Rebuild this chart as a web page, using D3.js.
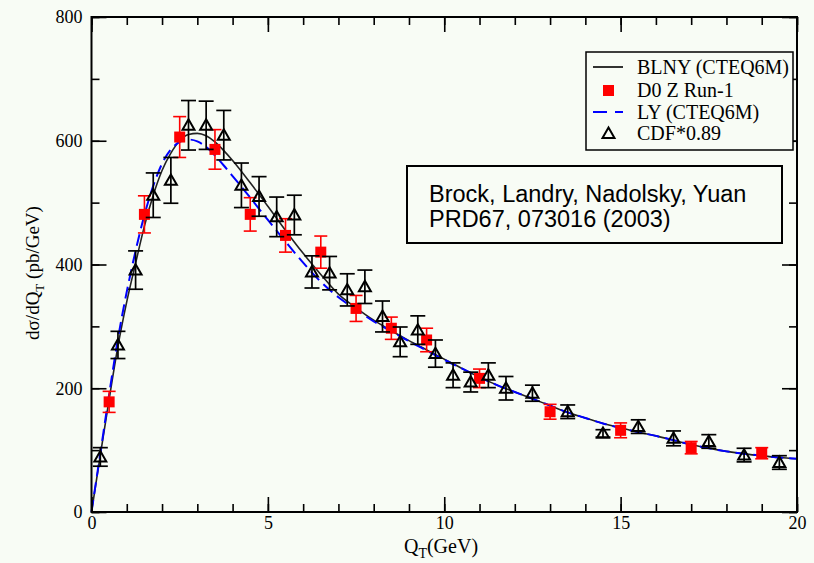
<!DOCTYPE html>
<html>
<head>
<meta charset="utf-8">
<script src="https://cdn.jsdelivr.net/npm/d3@7"></script>
<style>
  html, body { margin: 0; padding: 0; background: #f8fcf5; }
  svg { display: block; }
</style>
</head>
<body>
<script>
// Z boson transverse momentum distribution at the Tevatron Run-1

// Theory curves, sampled in Q_T (GeV)
const curveQ = [0, 0.25, 0.5, 0.75, 1, 1.25, 1.5, 1.75, 2, 2.25, 2.5, 2.75, 3, 3.25, 3.5, 3.75, 4,
  4.5, 5, 5.5, 6, 6.5, 7, 7.5, 8, 8.5, 9, 9.5, 10, 10.5, 11, 11.5, 12, 12.5, 13, 13.5, 14,
  14.5, 15, 15.5, 16, 16.5, 17, 17.5, 18, 18.5, 19, 19.5, 20];
const blnyValues = [0, 92, 182, 268, 340, 402, 462, 512, 552, 580, 600, 610, 612, 608, 598, 584, 568,
  532, 494, 455, 418, 384, 352, 330, 310, 293, 277, 262, 247, 232, 218, 205, 194, 183, 172, 161, 152,
  143, 136, 129, 123, 116, 109, 103, 98, 94, 91, 88, 86];
const lyValues = [0, 95, 190, 280, 356, 422, 480, 527, 563, 586, 598, 602, 599, 590, 576, 560, 543,
  508, 472, 437, 403, 372, 347, 327, 308, 292, 276, 261, 246, 232, 218, 205, 194, 183, 172, 161, 152,
  143, 136, 129, 123, 116, 109, 103, 98, 94, 91, 88, 86];

// D0 Z Run-1 data
const d0Q = [0.5, 1.5, 2.5, 3.5, 4.5, 5.5, 6.5, 7.5, 8.5, 9.5, 11, 13, 15, 17, 19];
const d0Values = [178, 481, 606, 586, 481, 447, 420, 329, 297, 278, 216, 162, 132, 104, 95];
const d0Errors = [17, 30, 33, 32, 27, 27, 26, 21, 18, 19, 15, 12, 12, 10, 9];

// CDF data, scaled by 0.89
const cdfQ = [0.25, 0.75, 1.25, 1.75, 2.25, 2.75, 3.25, 3.75, 4.25, 4.75, 5.25, 5.75, 6.25, 6.75,
  7.25, 7.75, 8.25, 8.75, 9.25, 9.75, 10.25, 10.75, 11.25, 11.75, 12.5, 13.5, 14.5, 15.5, 16.5,
  17.5, 18.5, 19.5];
const cdfValues = [89, 270, 391, 512, 536, 625, 625, 609, 528, 510, 477, 480, 388, 386, 359, 364,
  316, 275, 294, 256, 221, 210, 221, 200, 192, 162, 127, 138, 119, 114, 92, 80];
const cdfErrors = [15, 22, 31, 36, 37, 40, 39, 40, 36, 32, 32, 32, 26, 27, 26, 27, 25, 24, 23, 22,
  20, 16, 20, 19, 13, 11, 6, 11, 12, 11, 11, 11];

// Axis ticks
const xMajorTicks = [0, 5, 10, 15, 20];
const xMinorTicks = d3.range(0, 21, 1);
const yMajorTicks = [0, 200, 400, 600, 800];
const yMinorTicks = d3.range(0, 801, 100);

const legendLabels = ["BLNY (CTEQ6M)", "D0 Z Run-1", "LY (CTEQ6M)", "CDF*0.89"];
const noteLines = ["Brock, Landry, Nadolsky, Yuan", "PRD67, 073016 (2003)"];

const W = 814, H = 563;
const bg = "#f8fcf5";
const serif = "'Liberation Serif', 'Times New Roman', serif";
const sans = "'Liberation Sans', Arial, sans-serif";

const svg = d3.select("body").append("svg")
  .attr("width", W).attr("height", H)
  .style("background", bg);

const x = d3.scaleLinear().domain([0, 20]).range([91.5, 797]);
const y = d3.scaleLinear().domain([0, 800]).range([512, 17]);

// Theory curves
const line = d3.line().curve(d3.curveMonotoneX);
const blnyPts = curveQ.map((q, i) => [x(q), y(blnyValues[i])]);
const lyPts = curveQ.map((q, i) => [x(q), y(lyValues[i])]);

svg.append("path").attr("d", line(blnyPts))
  .attr("fill", "none").attr("stroke", "#222").attr("stroke-width", 1.6);
svg.append("path").attr("d", line(lyPts))
  .attr("fill", "none").attr("stroke", "#0000ff").attr("stroke-width", 2)
  .attr("stroke-dasharray", "12,6");

// Error bars helper
function errorBars(g, qs, vals, errs, color, cap, width) {
  qs.forEach((q, i) => {
    const cx = x(q), top = y(vals[i] + errs[i]), bot = y(vals[i] - errs[i]);
    g.append("line").attr("x1", cx).attr("x2", cx).attr("y1", top).attr("y2", bot)
      .attr("stroke", color).attr("stroke-width", width);
    [top, bot].forEach(yy => g.append("line")
      .attr("x1", cx - cap / 2).attr("x2", cx + cap / 2).attr("y1", yy).attr("y2", yy)
      .attr("stroke", color).attr("stroke-width", width));
  });
}

// D0 points
const d0g = svg.append("g");
errorBars(d0g, d0Q, d0Values, d0Errors, "#ff0000", 13, 1.6);
d0g.selectAll("rect").data(d0Q).join("rect")
  .attr("x", (q) => x(q) - 5.5)
  .attr("y", (q, i) => y(d0Values[i]) - 5.5)
  .attr("width", 11).attr("height", 11)
  .attr("fill", "#ff0000");

// CDF points
const cdfg = svg.append("g");
errorBars(cdfg, cdfQ, cdfValues, cdfErrors, "#000", 15, 1.7);
const tri = d3.symbol().type(d3.symbolTriangle).size(62);
cdfg.selectAll("path.tri").data(cdfQ).join("path")
  .attr("class", "tri")
  .attr("d", tri)
  .attr("transform", (q, i) => `translate(${x(q)},${y(cdfValues[i]) + 1})`)
  .attr("fill", "none").attr("stroke", "#000").attr("stroke-width", 2);

// Frame and ticks (inward, mirrored)
const axisG = svg.append("g").attr("font-family", serif);
function styleAxis(g) {
  g.select(".domain").remove();
  g.selectAll(".tick line").attr("stroke", "#000").attr("stroke-width", 1.6);
}
axisG.append("g").attr("transform", `translate(0,${y(0)})`)
  .call(d3.axisBottom(x).tickValues(xMinorTicks).tickSize(-8).tickFormat(""))
  .call(styleAxis);
axisG.append("g").attr("transform", `translate(0,${y(0)})`)
  .call(d3.axisBottom(x).tickValues(xMajorTicks).tickSize(-15).tickPadding(4).tickFormat(d3.format("d")))
  .call(styleAxis)
  .call(g => g.selectAll("text").attr("font-size", 18).attr("font-family", serif).attr("fill", "#000"));
axisG.append("g").attr("transform", `translate(0,${y(800)})`)
  .call(d3.axisTop(x).tickValues(xMinorTicks).tickSize(-8).tickFormat(""))
  .call(styleAxis);
axisG.append("g").attr("transform", `translate(0,${y(800)})`)
  .call(d3.axisTop(x).tickValues(xMajorTicks).tickSize(-15).tickFormat(""))
  .call(styleAxis);
axisG.append("g").attr("transform", `translate(${x(0)},0)`)
  .call(d3.axisLeft(y).tickValues(yMinorTicks).tickSize(-8).tickFormat(""))
  .call(styleAxis);
axisG.append("g").attr("transform", `translate(${x(0)},0)`)
  .call(d3.axisLeft(y).tickValues(yMajorTicks).tickSize(-15).tickPadding(9).tickFormat(d3.format("d")))
  .call(styleAxis)
  .call(g => g.selectAll("text").attr("font-size", 18).attr("font-family", serif).attr("fill", "#000"));
axisG.append("g").attr("transform", `translate(${x(20)},0)`)
  .call(d3.axisRight(y).tickValues(yMinorTicks).tickSize(-8).tickFormat(""))
  .call(styleAxis);
axisG.append("g").attr("transform", `translate(${x(20)},0)`)
  .call(d3.axisRight(y).tickValues(yMajorTicks).tickSize(-15).tickFormat(""))
  .call(styleAxis);
svg.append("rect")
  .attr("x", x(0)).attr("y", y(800))
  .attr("width", x(20) - x(0)).attr("height", y(0) - y(800))
  .attr("fill", "none").attr("stroke", "#000").attr("stroke-width", 2);

// Axis titles
const xt = svg.append("text")
  .attr("x", 441).attr("y", 553)
  .attr("text-anchor", "middle")
  .attr("font-family", serif).attr("font-size", 20).attr("fill", "#000");
xt.append("tspan").text("Q");
xt.append("tspan").attr("dy", 5).attr("font-size", 14).text("T");
xt.append("tspan").attr("dy", -5).text("(GeV)");

const yt = svg.append("text")
  .attr("transform", "translate(39,273) rotate(-90)")
  .attr("text-anchor", "middle")
  .attr("font-family", serif).attr("font-size", 19).attr("fill", "#000");
yt.append("tspan").text("dσ/dQ");
yt.append("tspan").attr("dy", 5).attr("font-size", 13).text("T");
yt.append("tspan").attr("dy", -5).text(" (pb/GeV)");

// Legend
const lg = svg.append("g").attr("transform", "translate(586,52)");
lg.append("rect").attr("width", 207).attr("height", 98)
  .attr("fill", bg).attr("stroke", "#000").attr("stroke-width", 1.5);
const rowY = [15, 38.5, 60, 81.5];
lg.append("line").attr("x1", 7).attr("x2", 37).attr("y1", rowY[0]).attr("y2", rowY[0])
  .attr("stroke", "#000").attr("stroke-width", 1.6);
lg.append("rect").attr("x", 17).attr("y", rowY[1] - 5.5).attr("width", 11).attr("height", 11)
  .attr("fill", "#ff0000");
lg.append("line").attr("x1", 7).attr("x2", 37).attr("y1", rowY[2]).attr("y2", rowY[2])
  .attr("stroke", "#0000ff").attr("stroke-width", 2).attr("stroke-dasharray", "14,8");
lg.append("path").attr("d", tri).attr("transform", `translate(22.5,${rowY[3] + 1})`)
  .attr("fill", "none").attr("stroke", "#000").attr("stroke-width", 2);
lg.selectAll("text.lab").data(legendLabels).join("text")
  .attr("class", "lab")
  .attr("x", 51).attr("y", (d, i) => rowY[i] + 6.5)
  .attr("font-family", serif).attr("font-size", 20).attr("fill", "#000")
  .text(d => d);

// Reference note
const ng = svg.append("g").attr("transform", "translate(407,166)");
ng.append("rect").attr("width", 375).attr("height", 77)
  .attr("fill", bg).attr("stroke", "#000").attr("stroke-width", 2);
ng.selectAll("text").data(noteLines).join("text")
  .attr("x", 22).attr("y", (d, i) => 35.5 + i * 25)
  .attr("font-family", sans).attr("font-size", 23.5).attr("fill", "#000")
  .text(d => d);
</script>
</body>
</html>
